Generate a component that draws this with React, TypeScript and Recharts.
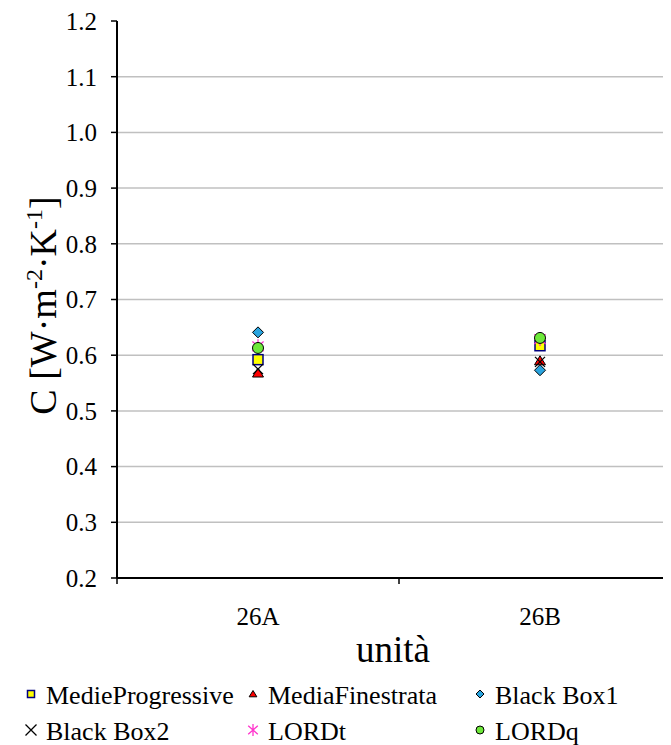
import { ScatterChart, Scatter, XAxis, YAxis, ReferenceLine } from "recharts";

const FONT = "Liberation Serif, Times New Roman, Times, serif";

// values, one entry per unit
const units = ["26A", "26B"];
const medieProgressive = [0.592, 0.617];
const mediaFinestrata = [0.568, 0.59];
const blackBox1 = [0.641, 0.573];
const blackBox2 = [0.575, 0.588];
const lordT = [0.616, 0.629];
const lordQ = [0.613, 0.631];

const yTicks = [0.2, 0.3, 0.4, 0.5, 0.6, 0.7, 0.8, 0.9, 1.0, 1.1, 1.2];
const gridValues = [0.3, 0.4, 0.5, 0.6, 0.7, 0.8, 0.9, 1.0, 1.1];
const xTicks = [0, 0.5, 1, 1.5, 2];

type Kind = "square" | "triangle" | "diamond" | "cross" | "star" | "circle";

const series: { name: string; values: number[]; kind: Kind; size: number; legendSize: number }[] = [
  { name: "MedieProgressive", values: medieProgressive, kind: "square", size: 10, legendSize: 7 },
  { name: "MediaFinestrata", values: mediaFinestrata, kind: "triangle", size: 10, legendSize: 7 },
  { name: "Black Box1", values: blackBox1, kind: "diamond", size: 11, legendSize: 8 },
  { name: "Black Box2", values: blackBox2, kind: "cross", size: 10, legendSize: 11 },
  { name: "LORDt", values: lordT, kind: "star", size: 14, legendSize: 12 },
  { name: "LORDq", values: lordQ, kind: "circle", size: 11, legendSize: 8 },
];

function Marker({ cx, cy, kind, s }: { cx: number; cy: number; kind: Kind; s: number }) {
  const h = s / 2;
  switch (kind) {
    case "square":
      return <rect x={cx - h} y={cy - h} width={s} height={s} fill="#ffff00" stroke="#000080" strokeWidth={1.5} />;
    case "triangle":
      return (
        <polygon
          points={`${cx},${cy - h} ${cx + h * 1.1},${cy + h * 0.8} ${cx - h * 1.1},${cy + h * 0.8}`}
          fill="#ff0000"
          stroke="#000"
          strokeWidth={1}
        />
      );
    case "diamond":
      return (
        <polygon
          points={`${cx},${cy - h} ${cx + h},${cy} ${cx},${cy + h} ${cx - h},${cy}`}
          fill="#2aa4df"
          stroke="#000"
          strokeWidth={1}
        />
      );
    case "cross":
      return (
        <path
          d={`M${cx - h},${cy - h}L${cx + h},${cy + h}M${cx + h},${cy - h}L${cx - h},${cy + h}`}
          stroke="#000"
          strokeWidth={1.3}
          fill="none"
        />
      );
    case "star":
      return (
        <path
          d={`M${cx - h * 0.8},${cy - h * 0.7}L${cx + h * 0.8},${cy + h * 0.7}M${cx + h * 0.8},${cy - h * 0.7}L${cx - h * 0.8},${cy + h * 0.7}M${cx},${cy - h}L${cx},${cy + h}`}
          stroke="#ff33cc"
          strokeWidth={1.3}
          fill="none"
        />
      );
    case "circle":
      return <circle cx={cx} cy={cy} r={h} fill="#6ee83a" stroke="#000" strokeWidth={1} />;
  }
}

function XTick(props: any) {
  const { x, y, payload } = props;
  const v = payload.value as number;
  if (Number.isInteger(v)) {
    return <line x1={x} x2={x} y1={y - 6} y2={y} stroke="#000" strokeWidth={1.5} />;
  }
  return (
    <text x={x} y={y + 41} textAnchor="middle" style={{ fontFamily: FONT }} fontSize={25} fill="#000">
      {units[Math.floor(v)]}
    </text>
  );
}

function YLabel(props: any) {
  const vb = props.viewBox;
  const x = 48;
  const y = vb.y + vb.height / 2 + 6;
  return (
    <text x={x} y={y} transform={`rotate(-90, ${x}, ${y})`} textAnchor="middle" style={{ fontFamily: FONT }} fontSize={38} fill="#000">
      C [W·m
      <tspan fontSize={24} dy={-14}>-2</tspan>
      <tspan dy={14}>·K</tspan>
      <tspan fontSize={24} dy={-14}>-1</tspan>
      <tspan dy={14}>]</tspan>
    </text>
  );
}

function XLabel(props: any) {
  const vb = props.viewBox;
  return (
    <text x={vb.x + vb.width / 2 - 6} y={vb.y + 84} textAnchor="middle" style={{ fontFamily: FONT }} fontSize={37} fill="#000">
      unità
    </text>
  );
}

const legendCols = [23, 245, 472];
const legendRows = [26, 62];

export default function App() {
  return (
    <div style={{ position: "relative", width: 663, height: 737, overflow: "hidden", fontFamily: FONT }}>
      <ScatterChart width={680} height={662} margin={{ top: 13, right: 7, left: 0, bottom: 2 }} style={{ fontFamily: FONT }}>
        {gridValues.map((v) => (
          <ReferenceLine key={v} y={v} stroke="#c0c0c0" strokeWidth={1.5} />
        ))}
        <XAxis
          type="number"
          dataKey="x"
          domain={[0, 2]}
          ticks={xTicks}
          interval={0}
          height={90}
          tickSize={6}
          tickMargin={0}
          tickLine={false}
          axisLine={{ stroke: "#000", strokeWidth: 2 }}
          tick={<XTick />}
          label={<XLabel />}
        />
        <YAxis
          type="number"
          dataKey="y"
          domain={[0.2, 1.2]}
          ticks={yTicks}
          interval={0}
          width={109}
          tickSize={6}
          tickMargin={14}
          tickFormatter={(v: number) => v.toFixed(1)}
          tick={{ fontSize: 25, fill: "#000", style: { fontFamily: FONT } }}
          tickLine={{ stroke: "#000", strokeWidth: 1.5 }}
          axisLine={{ stroke: "#000", strokeWidth: 2 }}
          label={<YLabel />}
        />
        {series.map((s) => (
          <Scatter
            key={s.name}
            name={s.name}
            data={s.values.map((v, i) => ({ x: i + 0.5, y: v }))}
            isAnimationActive={false}
            shape={(p: any) => <Marker cx={p.cx} cy={p.cy} kind={s.kind} s={s.size} />}
          />
        ))}
      </ScatterChart>
      <svg width={663} height={77} style={{ position: "absolute", left: 0, top: 660, fontFamily: FONT }}>
        {series.map((s, i) => {
          const col = i % 3;
          const row = Math.floor(i / 3);
          const mx = legendCols[col];
          return (
            <g key={s.name}>
              <Marker cx={mx} cy={legendRows[row]} kind={s.kind} s={s.legendSize} />
              <text x={mx + 15} y={legendRows[row] + 10} style={{ fontFamily: FONT }} fontSize={26} fill="#000">
                {s.name}
              </text>
            </g>
          );
        })}
      </svg>
    </div>
  );
}
